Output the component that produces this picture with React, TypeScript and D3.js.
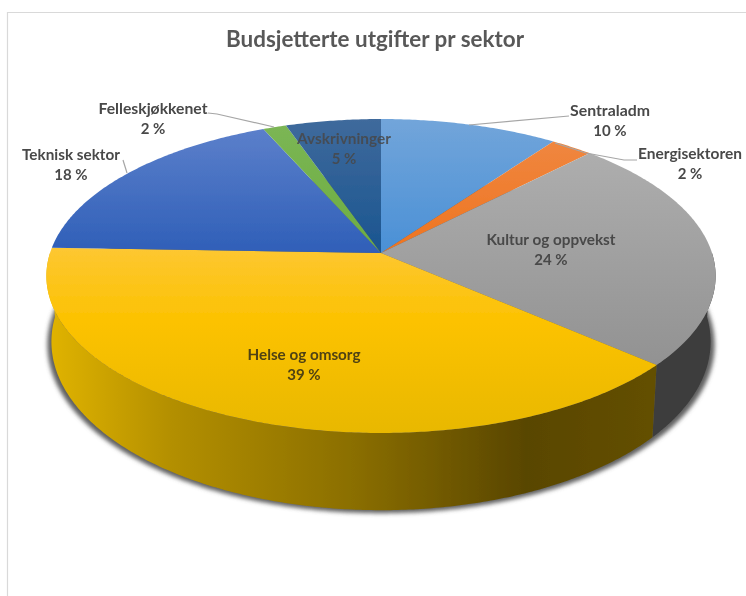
import React from "react";
import * as d3 from "d3";

const title = "Budsjetterte utgifter pr sektor";
const categories = ["Sentraladm", "Energisektoren", "Kultur og oppvekst", "Helse og omsorg", "Teknisk sektor", "Felleskjøkkenet", "Avskrivninger"];
const sliceShares = [9.9, 2.35, 24.2, 39.1, 17.85, 1.3, 5.3];
const percentLabels = ["10 %", "2 %", "24 %", "39 %", "18 %", "2 %", "5 %"];
const topLight = ["#72a5da", "#f08a45", "#aeaeae", "#fdc732", "#5f82cc", "#7cb655", "#3f6a9c"];
const topDark = ["#4a90d6", "#ee7420", "#929292", "#e8b800", "#2f5fb8", "#6cad42", "#1a5590"];
const wallColors = ["#27496b", "#783c10", "#3c3c3c", "#6b5400", "#1e3a70", "#3c5e24", "#123050"];

const W = 746, H = 596;
const CX = 381, CY = 253;
const RADIUS = 331, FORE = 153.6, PERSP = 0.1465;
const WALL_DY = 64, WALL_SX = 0.985, WALL_SY = 1.0735;
const WALL_FROM = Math.PI * 0.5, WALL_TO = Math.PI * 1.5;

function top(a: number): [number, number] {
  const X = Math.sin(a), Y = -Math.cos(a);
  const d = 1 - PERSP * Y;
  return [CX + (RADIUS * X) / d, CY + (FORE * Y) / d];
}
function bottom(a: number, grow = 0, shift = 0): [number, number] {
  const [x, y] = top(a);
  return [CX + (x - CX) * (WALL_SX + grow), CY + WALL_DY + shift + (y - CY) * WALL_SY];
}
const sample = (a0: number, a1: number) => {
  const n = Math.max(2, Math.ceil(Math.abs(a1 - a0) / 0.01));
  return d3.range(n + 1).map((i) => a0 + ((a1 - a0) * i) / n);
};
const line = d3.line();

const pie = d3.pie<number>().sort(null).value((d) => d);
const arcs = pie(sliceShares);

const labelPos: [number, number][] = [[610, 111], [690, 154], [551, 240], [304, 355], [71, 155], [153, 109], [344, 139]];
const labelWidth = [80, 104, 129, 113, 98, 109, 94];
const leaders: ([number, number][] | null)[] = [
  [[469, 125], [569, 116]],
  [[555, 143], [586, 153], [624, 160], [637, 160]],
  null,
  null,
  [[123, 160], [127, 173]],
  [[208, 113], [217, 114], [274, 127]],
  null,
];

export default function App() {
  const wallShape = (a0: number, a1: number) =>
    line([...sample(a0, a1).map(top), ...sample(a1, a0).map((a) => bottom(a))])! + "Z";
  const shadow = line(sample(0, Math.PI * 2).map((a) => bottom(a, 0.012, 3)))! + "Z";
  return (
    <svg width={W} height={H} viewBox={`0 0 ${W} ${H}`} style={{ position: "absolute", left: 0, top: 0, background: "#fff" }}>
      <defs>
        <filter id="soft" x="-5%" y="-5%" width="110%" height="110%">
          <feGaussianBlur stdDeviation="0.45" />
        </filter>
        <filter id="shadow" x="-5%" y="-5%" width="110%" height="110%">
          <feGaussianBlur stdDeviation="2" />
        </filter>
        {categories.map((_, i) => (
          <linearGradient key={i} id={`t${i}`} gradientUnits="userSpaceOnUse" x1="0" x2="0" y1={i === 3 ? 248 : 119} y2={i === 3 ? 434 : 253}>
            <stop offset="0" stopColor={topLight[i]} />
            {i === 3 && <stop offset="0.4" stopColor="#fcc200" />}
            <stop offset="1" stopColor={topDark[i]} />
          </linearGradient>
        ))}
        <linearGradient id="greyTop" gradientUnits="userSpaceOnUse" x1="0" x2="0" y1="150" y2="365">
          <stop offset="0" stopColor="#aeaeae" />
          <stop offset="1" stopColor="#929292" />
        </linearGradient>
        <linearGradient id="yellowWall" gradientUnits="userSpaceOnUse" x1="50" x2="660" y1="0" y2="0">
          <stop offset="0" stopColor="#e0b300" />
          <stop offset="0.2" stopColor="#b38f00" />
          <stop offset="0.5" stopColor="#8a6e00" />
          <stop offset="0.78" stopColor="#594600" />
          <stop offset="1" stopColor="#645000" />
        </linearGradient>
      </defs>
      <g filter="url(#soft)">
        <path d={`M7.5 ${H}V12.5H${W}`} fill="none" stroke="#d9d9d9" strokeWidth={1.2} />
        <text x={375} y={47} textAnchor="middle" fontFamily="Lato, sans-serif" fontWeight={700} fontSize={22} fill="#595959" textLength={298} lengthAdjust="spacingAndGlyphs">
          {title}
        </text>
        <path d={shadow} fill="#606060" filter="url(#shadow)" />
        {arcs.map((d, i) => {
          const a0 = Math.max(d.startAngle, WALL_FROM), a1 = Math.min(d.endAngle, WALL_TO);
          return a1 > a0 ? <path key={i} d={wallShape(a0, a1)} fill={i === 3 ? "url(#yellowWall)" : wallColors[i]} /> : null;
        })}
        {arcs.map((d, i) => (
          <path
            key={i}
            d={line([[CX, CY], ...sample(d.startAngle, d.endAngle).map(top)])! + "Z"}
            fill={i === 2 ? "url(#greyTop)" : `url(#t${i})`}
          />
        ))}
        {leaders.map((pts, i) =>
          pts ? <path key={i} d={line(pts)!} fill="none" stroke="#a6a6a6" strokeWidth={1.2} /> : null
        )}
        {categories.map((c, i) => (
          <g key={c} fontFamily="Lato, sans-serif" fontWeight={700} fontSize={15} fill={i === 3 ? "#4f4212" : "#484848"} textAnchor="middle" opacity={i === 6 ? 0.85 : 1}>
            <text x={labelPos[i][0]} y={labelPos[i][1] + 5} textLength={labelWidth[i]} lengthAdjust="spacingAndGlyphs">{c}</text>
            <text x={labelPos[i][0]} y={labelPos[i][1] + 25}>{percentLabels[i]}</text>
          </g>
        ))}
      </g>
    </svg>
  );
}
